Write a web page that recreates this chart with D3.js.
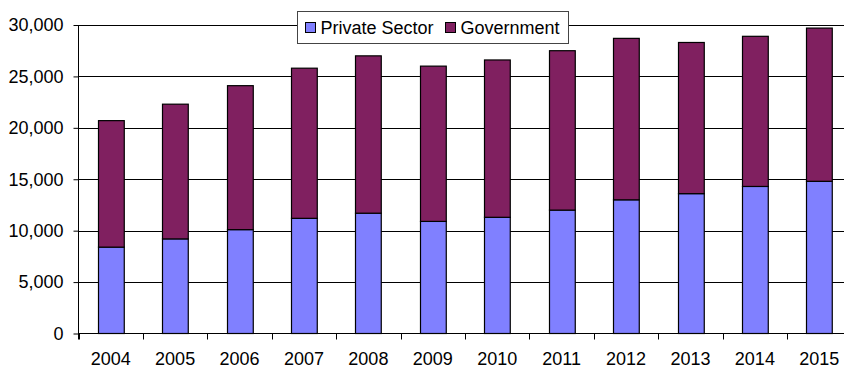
<!DOCTYPE html>
<html lang="en">
<head>
  <meta charset="utf-8">
  <title>Private Sector and Government</title>
  <script src="https://d3js.org/d3.v7.min.js"></script>
  <style>
    body { margin: 0; background: #fff; }
    text { font-family: "Liberation Sans", Arial, sans-serif; fill: #000; }
  </style>
</head>
<body>
	<script type="text/javascript">

		// Data
		var years = ["2004", "2005", "2006", "2007", "2008", "2009", "2010", "2011", "2012", "2013", "2014", "2015"];
		var privateSector = [8400, 9200, 10100, 11200, 11700, 10900, 11300, 12000, 13000, 13600, 14300, 14800];
		var government = [12300, 13100, 14000, 14600, 15300, 15100, 15300, 15500, 15700, 14700, 14600, 14900];
		var seriesNames = ["Private Sector", "Government"];
		var seriesColors = ["#8080ff", "#802060"];
		var yTicks = [0, 5000, 10000, 15000, 20000, 25000, 30000];

		var width = 844, height = 369;
		// plot area runs a little past the right edge, like the original
		var plot = {left: 78.5, right: 851.5, top: 25, bottom: 333.5};

		var svg = d3.select("body")
					.append("svg")
					.attr("width", width)
					.attr("height", height);

		var xScale = d3.scaleBand()
					.domain(years)
					.range([plot.left, plot.right])
					.paddingInner(0.6)
					.paddingOuter(0.3);

		var yScale = d3.scaleLinear()
					.domain([0, 30000])
					.range([plot.bottom, plot.top]);

		// gridlines
		svg.append("g")
			.selectAll("line")
			.data(yTicks.slice(1))
			.enter()
			.append("line")
			.attr("x1", plot.left)
			.attr("x2", plot.right)
			.attr("y1", function(d) { return Math.round(yScale(d)) + 0.5; })
			.attr("y2", function(d) { return Math.round(yScale(d)) + 0.5; })
			.attr("stroke", "#000")
			.attr("stroke-width", 1);

		// stacked data
		var rows = years.map(function(y, i) {
			return {year: y, "Private Sector": privateSector[i], "Government": government[i]};
		});
		var stacked = d3.stack().keys(seriesNames)(rows);

		svg.append("g")
			.selectAll("g")
			.data(stacked)
			.enter()
			.append("g")
			.attr("fill", function(d, i) { return seriesColors[i]; })
			.selectAll("rect")
			.data(function(d) { return d; })
			.enter()
			.append("rect")
			.attr("x", function(d) { return Math.round(xScale(d.data.year)) + 0.5; })
			.attr("y", function(d) { return yScale(d[1]); })
			.attr("width", xScale.bandwidth())
			.attr("height", function(d) { return yScale(d[0]) - yScale(d[1]); })
			.attr("stroke", "#000")
			.attr("stroke-width", 1.2);

		// y axis
		var yAxis = d3.axisLeft(yScale)
					.tickValues(yTicks)
					.tickSize(5)
					.tickPadding(10)
					.tickFormat(d3.format(","));

		var yg = svg.append("g")
			.attr("transform", "translate(" + plot.left + ",0)")
			.call(yAxis);
		yg.select(".domain").remove();
		yg.append("line")
			.attr("x1", 0).attr("x2", 0)
			.attr("y1", plot.top).attr("y2", plot.bottom + 6)
			.attr("stroke", "#000");
		yg.selectAll(".tick line").attr("stroke", "#000");
		yg.selectAll("text")
			.attr("font-size", "18px")
			.attr("font-family", "Liberation Sans, Arial, sans-serif");

		// x axis: baseline plus ticks between categories
		var xg = svg.append("g");
		xg.append("line")
			.attr("x1", plot.left).attr("x2", plot.right)
			.attr("y1", plot.bottom).attr("y2", plot.bottom)
			.attr("stroke", "#000");
		var step = xScale.step();
		xg.selectAll(".xtick")
			.data(d3.range(years.length + 1))
			.enter()
			.append("line")
			.attr("class", "xtick")
			.attr("x1", function(i) { return Math.round(plot.left + i * step) + 0.5; })
			.attr("x2", function(i) { return Math.round(plot.left + i * step) + 0.5; })
			.attr("y1", plot.bottom)
			.attr("y2", plot.bottom + 6)
			.attr("stroke", "#000");
		xg.selectAll(".xlabel")
			.data(years)
			.enter()
			.append("text")
			.attr("class", "xlabel")
			.attr("x", function(d) { return xScale(d) + xScale.bandwidth() / 2; })
			.attr("y", 365)
			.attr("text-anchor", "middle")
			.attr("font-size", "18px")
			.text(function(d) { return d; });

		// legend
		var legend = svg.append("g");
		legend.append("rect")
			.attr("x", 297.5).attr("y", 11.5)
			.attr("width", 271).attr("height", 32)
			.attr("fill", "#fff")
			.attr("stroke", "#444");
		var legendX = [305.5, 445.5];
		var item = legend.selectAll(".item")
			.data(seriesNames)
			.enter()
			.append("g")
			.attr("class", "item")
			.attr("transform", function(d, i) { return "translate(" + legendX[i] + ",22.5)"; });
		item.append("rect")
			.attr("width", 10).attr("height", 10)
			.attr("fill", function(d, i) { return seriesColors[i]; })
			.attr("stroke", "#000");
		item.append("text")
			.attr("x", 15)
			.attr("y", 11)
			.attr("font-size", "18px")
			.text(function(d) { return d; });
	</script>
</body>
</html>
